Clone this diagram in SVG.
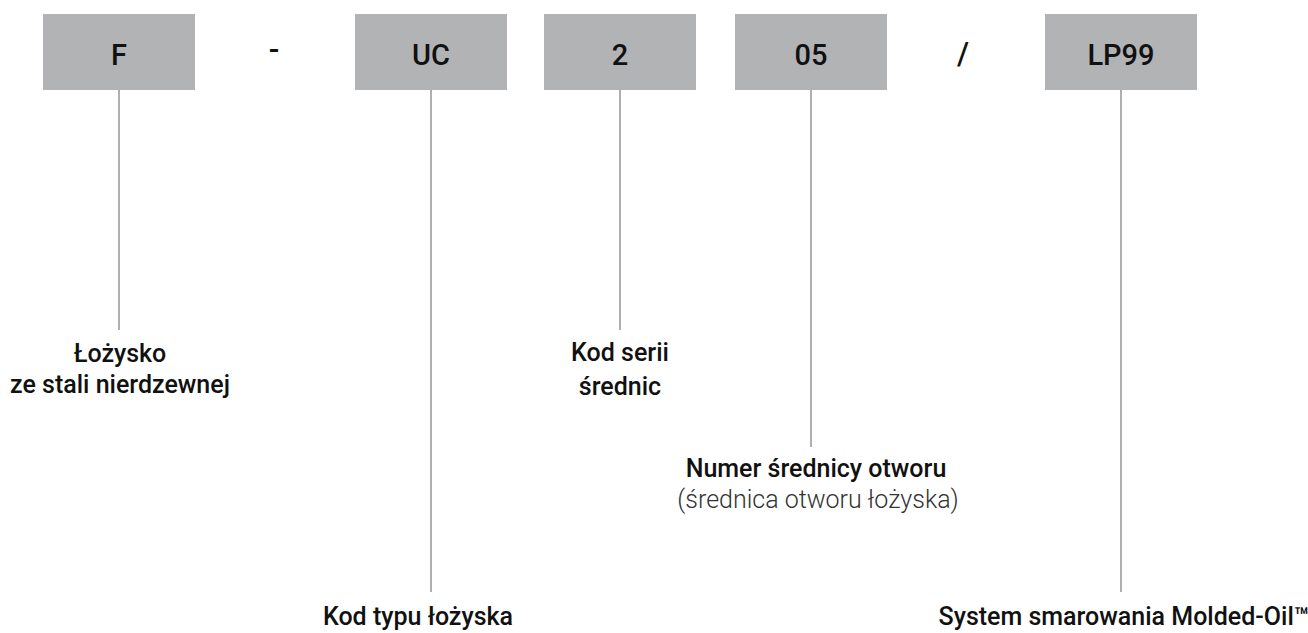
<svg xmlns="http://www.w3.org/2000/svg" width="1308" height="633" viewBox="0 0 1308 633">
  <style>
    .box { fill: #b2b3b5; }
    .code { font-family: Roboto, "Noto Sans", sans-serif; font-weight: 500; font-size: 29px; fill: #111; text-anchor: middle; }
    .sep { font-family: Roboto, "Noto Sans", sans-serif; font-weight: 500; font-size: 31px; fill: #111; text-anchor: middle; }
    .lbl { font-family: Roboto, "Noto Sans", sans-serif; font-weight: 500; font-size: 25px; fill: #111; text-anchor: middle; }
    .sub { font-family: Roboto, "Noto Sans", sans-serif; font-weight: 300; font-size: 25px; fill: #333; text-anchor: middle; }
    .conn line { stroke: #7a7a7a; stroke-width: 1.2; }
  </style>
  <rect width="1308" height="633" fill="#fff"/>

  <!-- leader lines from each code segment down to its description -->
  <g id="connectors" class="conn">
    <line x1="119" y1="90" x2="119" y2="330"/>
    <line x1="431" y1="90" x2="431" y2="592"/>
    <line x1="620" y1="90" x2="620" y2="330"/>
    <line x1="811" y1="90" x2="811" y2="447"/>
    <line x1="1121" y1="90" x2="1121" y2="592"/>
  </g>

  <g id="node-f">
    <rect class="box" x="43" y="14" width="152" height="76"/>
    <text class="code" x="119" y="65">F</text>
  </g>
  <g id="sep-dash">
    <text class="sep" x="274" y="60">-</text>
  </g>
  <g id="node-uc">
    <rect class="box" x="355" y="14" width="152" height="76"/>
    <text class="code" x="431" y="65">UC</text>
  </g>
  <g id="node-2">
    <rect class="box" x="544" y="14" width="152" height="76"/>
    <text class="code" x="620" y="65">2</text>
  </g>
  <g id="node-05">
    <rect class="box" x="735" y="14" width="152" height="76"/>
    <text class="code" x="811" y="65">05</text>
  </g>
  <g id="sep-slash">
    <text class="sep" x="963" y="64">/</text>
  </g>
  <g id="node-lp99">
    <rect class="box" x="1045" y="14" width="152" height="76"/>
    <text class="code" x="1121" y="65">LP99</text>
  </g>

  <g id="label-f">
    <text class="lbl" x="120" y="362">Łożysko</text>
    <text class="lbl" x="120" y="393">ze stali nierdzewnej</text>
  </g>
  <g id="label-uc">
    <text class="lbl" x="418" y="625">Kod typu łożyska</text>
  </g>
  <g id="label-2">
    <text class="lbl" x="620" y="361">Kod serii</text>
    <text class="lbl" x="620" y="395">średnic</text>
  </g>
  <g id="label-05">
    <text class="lbl" x="816" y="477">Numer średnicy otworu</text>
    <text class="sub" x="818" y="508">(średnica otworu łożyska)</text>
  </g>
  <g id="label-lp99">
    <text class="lbl" x="1124" y="625">System smarowania Molded-Oil™</text>
  </g>
</svg>
